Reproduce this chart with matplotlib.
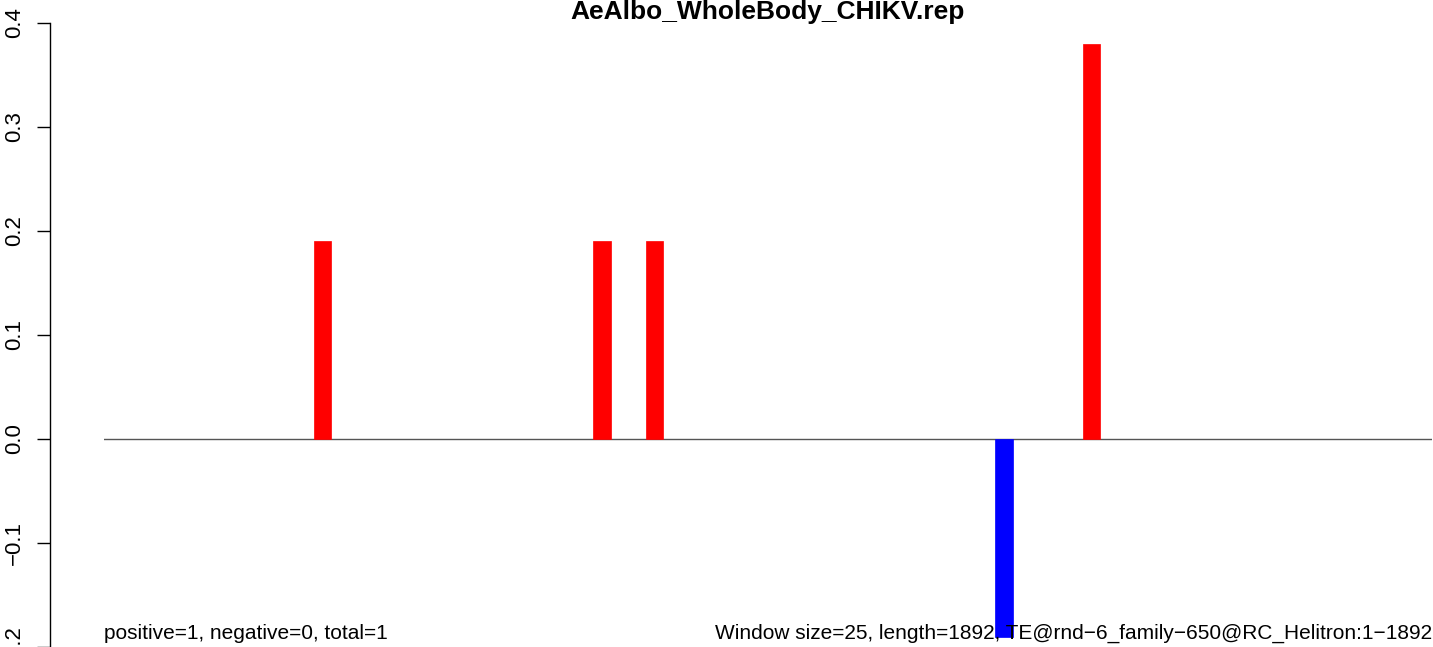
import matplotlib
matplotlib.use('Agg')
import matplotlib.pyplot as plt

plt.rcParams['font.family'] = ['Liberation Sans', 'DejaVu Sans']

title = 'AeAlbo_WholeBody_CHIKV.rep'
n_windows = 76                                   # 1892 / 25 rounded up
windows = [12, 28, 31, 51, 56]                   # window index of each bar
scores = [0.19, 0.19, 0.19, -0.19, 0.38]
yticks = [-0.2, -0.1, 0.0, 0.1, 0.2, 0.3, 0.4]
left_note = 'positive=1, negative=0, total=1'
right_note = 'Window size=25, length=1892, TE@rnd\u22126_family\u2212650@RC_Helitron:1\u22121892'

W, H = 1433, 647
fig = plt.figure(figsize=(W / 100, H / 100), dpi=100)
ax = fig.add_axes([104 / W, 0, 1328 / W, 1])

colors = ['red' if s > 0 else 'blue' for s in scores]
ax.bar(windows, scores, width=1.0, align='edge', color=colors, edgecolor=colors, linewidth=0.5, zorder=2)
ax.axhline(0, color='#555555', linewidth=1.0, zorder=1)

ax.set_xlim(0, n_windows)
ax.set_ylim(-(H - 441) / 1045, 0.4 + 23 / 1045)

for s in ['top', 'right', 'bottom']:
    ax.spines[s].set_visible(False)
ax.spines['left'].set_position(('outward', 54 * 0.72))   # 54 px left of the plot area
ax.spines['left'].set_bounds(-0.2, 0.4)
ax.spines['left'].set_linewidth(1.0)
ax.set_xticks([])
ax.set_yticks(yticks)
ax.set_yticklabels(['\u22120.2', '\u22120.1', '0.0', '0.1', '0.2', '0.3', '0.4'])
ax.tick_params(axis='y', length=9.4, width=1.0, pad=8.5, labelsize=16)
plt.setp(ax.get_yticklabels(), rotation=90, va='center')

fig.text(768 / W, 1 - 19 / H, title, ha='center', va='baseline', fontsize=19, fontweight='bold')
fig.text(104 / W, 1 - 639 / H, left_note, ha='left', va='baseline', fontsize=15, zorder=5)
fig.text(1432 / W, 1 - 639 / H, right_note, ha='right', va='baseline', fontsize=15, zorder=5)

fig.savefig('out.png', dpi=100)
